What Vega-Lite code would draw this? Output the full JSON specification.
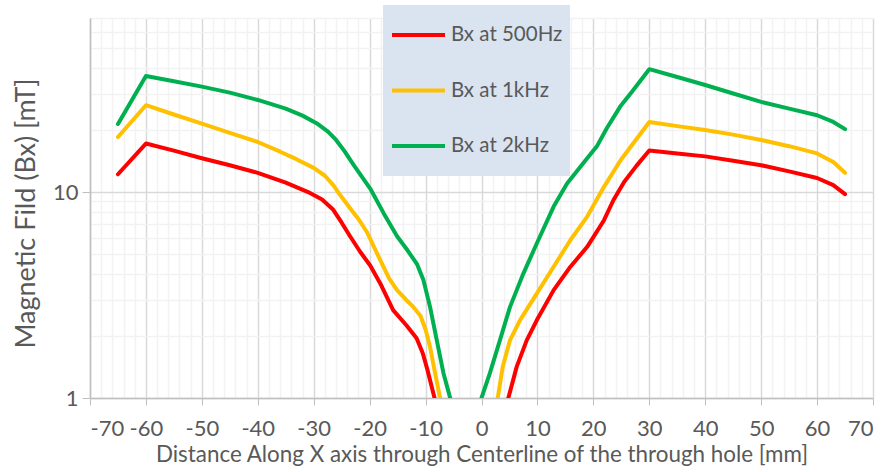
{
  "$schema": "https://vega.github.io/schema/vega-lite/v6.json",
  "width": 783,
  "height": 380,
  "autosize": {"type": "none"},
  "padding": {"left": 90, "top": 18, "right": 13, "bottom": 74},
  "background": "white",
  "config": {
    "view": {"stroke": null},
    "font": "Lato",
    "axis": {"labelColor": "#595959", "titleColor": "#595959", "titleFontWeight": "normal", "labelFont": "Lato", "titleFont": "Lato"}
  },
  "data": {
    "values": [
      {"x": -65, "series": "Bx at 500Hz", "branch": "left", "B": 12.2},
      {"x": -60, "series": "Bx at 500Hz", "branch": "left", "B": 17.2},
      {"x": -55, "series": "Bx at 500Hz", "branch": "left", "B": 15.9},
      {"x": -50, "series": "Bx at 500Hz", "branch": "left", "B": 14.6},
      {"x": -45, "series": "Bx at 500Hz", "branch": "left", "B": 13.5},
      {"x": -40, "series": "Bx at 500Hz", "branch": "left", "B": 12.4},
      {"x": -35, "series": "Bx at 500Hz", "branch": "left", "B": 11.1},
      {"x": -31, "series": "Bx at 500Hz", "branch": "left", "B": 10.0},
      {"x": -28.5, "series": "Bx at 500Hz", "branch": "left", "B": 9.2},
      {"x": -26.5, "series": "Bx at 500Hz", "branch": "left", "B": 8.2},
      {"x": -25, "series": "Bx at 500Hz", "branch": "left", "B": 7.1},
      {"x": -23.5, "series": "Bx at 500Hz", "branch": "left", "B": 6.1},
      {"x": -21.7, "series": "Bx at 500Hz", "branch": "left", "B": 5.13},
      {"x": -19.9, "series": "Bx at 500Hz", "branch": "left", "B": 4.4},
      {"x": -18.1, "series": "Bx at 500Hz", "branch": "left", "B": 3.6},
      {"x": -15.8, "series": "Bx at 500Hz", "branch": "left", "B": 2.67},
      {"x": -13.4, "series": "Bx at 500Hz", "branch": "left", "B": 2.25},
      {"x": -11.6, "series": "Bx at 500Hz", "branch": "left", "B": 1.95},
      {"x": -10.5, "series": "Bx at 500Hz", "branch": "left", "B": 1.65},
      {"x": -9.6, "series": "Bx at 500Hz", "branch": "left", "B": 1.35},
      {"x": -8.4, "series": "Bx at 500Hz", "branch": "left", "B": 1.0},
      {"x": 4.8, "series": "Bx at 500Hz", "branch": "right", "B": 1.0},
      {"x": 6.3, "series": "Bx at 500Hz", "branch": "right", "B": 1.42},
      {"x": 8.1, "series": "Bx at 500Hz", "branch": "right", "B": 1.91},
      {"x": 9.9, "series": "Bx at 500Hz", "branch": "right", "B": 2.39},
      {"x": 12.9, "series": "Bx at 500Hz", "branch": "right", "B": 3.34},
      {"x": 15.9, "series": "Bx at 500Hz", "branch": "right", "B": 4.34},
      {"x": 18.9, "series": "Bx at 500Hz", "branch": "right", "B": 5.42},
      {"x": 21.9, "series": "Bx at 500Hz", "branch": "right", "B": 7.3},
      {"x": 23.6, "series": "Bx at 500Hz", "branch": "right", "B": 9.15},
      {"x": 25.5, "series": "Bx at 500Hz", "branch": "right", "B": 11.2},
      {"x": 27.7, "series": "Bx at 500Hz", "branch": "right", "B": 13.4},
      {"x": 30, "series": "Bx at 500Hz", "branch": "right", "B": 15.9},
      {"x": 35, "series": "Bx at 500Hz", "branch": "right", "B": 15.4},
      {"x": 40, "series": "Bx at 500Hz", "branch": "right", "B": 14.9},
      {"x": 45, "series": "Bx at 500Hz", "branch": "right", "B": 14.2},
      {"x": 50, "series": "Bx at 500Hz", "branch": "right", "B": 13.5},
      {"x": 55, "series": "Bx at 500Hz", "branch": "right", "B": 12.6},
      {"x": 60, "series": "Bx at 500Hz", "branch": "right", "B": 11.7},
      {"x": 62.9, "series": "Bx at 500Hz", "branch": "right", "B": 10.8},
      {"x": 65, "series": "Bx at 500Hz", "branch": "right", "B": 9.78},

      {"x": -65, "series": "Bx at 1kHz", "branch": "left", "B": 18.5},
      {"x": -60, "series": "Bx at 1kHz", "branch": "left", "B": 26.4},
      {"x": -55, "series": "Bx at 1kHz", "branch": "left", "B": 23.8},
      {"x": -50, "series": "Bx at 1kHz", "branch": "left", "B": 21.5},
      {"x": -45, "series": "Bx at 1kHz", "branch": "left", "B": 19.4},
      {"x": -40, "series": "Bx at 1kHz", "branch": "left", "B": 17.5},
      {"x": -36, "series": "Bx at 1kHz", "branch": "left", "B": 15.7},
      {"x": -33, "series": "Bx at 1kHz", "branch": "left", "B": 14.4},
      {"x": -30, "series": "Bx at 1kHz", "branch": "left", "B": 13.1},
      {"x": -28, "series": "Bx at 1kHz", "branch": "left", "B": 12.0},
      {"x": -26.5, "series": "Bx at 1kHz", "branch": "left", "B": 10.8},
      {"x": -25.3, "series": "Bx at 1kHz", "branch": "left", "B": 9.7},
      {"x": -23.5, "series": "Bx at 1kHz", "branch": "left", "B": 8.35},
      {"x": -22, "series": "Bx at 1kHz", "branch": "left", "B": 7.4},
      {"x": -20.5, "series": "Bx at 1kHz", "branch": "left", "B": 6.4},
      {"x": -18.1, "series": "Bx at 1kHz", "branch": "left", "B": 4.67},
      {"x": -16.5, "series": "Bx at 1kHz", "branch": "left", "B": 3.8},
      {"x": -15.1, "series": "Bx at 1kHz", "branch": "left", "B": 3.34},
      {"x": -13.5, "series": "Bx at 1kHz", "branch": "left", "B": 3.0},
      {"x": -12.2, "series": "Bx at 1kHz", "branch": "left", "B": 2.77},
      {"x": -10.9, "series": "Bx at 1kHz", "branch": "left", "B": 2.5},
      {"x": -10.0, "series": "Bx at 1kHz", "branch": "left", "B": 2.15},
      {"x": -9.2, "series": "Bx at 1kHz", "branch": "left", "B": 1.77},
      {"x": -8.3, "series": "Bx at 1kHz", "branch": "left", "B": 1.32},
      {"x": -7.4, "series": "Bx at 1kHz", "branch": "left", "B": 1.0},
      {"x": 2.9, "series": "Bx at 1kHz", "branch": "right", "B": 1.0},
      {"x": 3.8, "series": "Bx at 1kHz", "branch": "right", "B": 1.42},
      {"x": 5.1, "series": "Bx at 1kHz", "branch": "right", "B": 1.91},
      {"x": 6.9, "series": "Bx at 1kHz", "branch": "right", "B": 2.39},
      {"x": 9.9, "series": "Bx at 1kHz", "branch": "right", "B": 3.22},
      {"x": 12.9, "series": "Bx at 1kHz", "branch": "right", "B": 4.34},
      {"x": 15.9, "series": "Bx at 1kHz", "branch": "right", "B": 5.85},
      {"x": 18.9, "series": "Bx at 1kHz", "branch": "right", "B": 7.6},
      {"x": 21.9, "series": "Bx at 1kHz", "branch": "right", "B": 10.6},
      {"x": 24.9, "series": "Bx at 1kHz", "branch": "right", "B": 14.3},
      {"x": 30, "series": "Bx at 1kHz", "branch": "right", "B": 21.9},
      {"x": 35, "series": "Bx at 1kHz", "branch": "right", "B": 20.9},
      {"x": 40, "series": "Bx at 1kHz", "branch": "right", "B": 20.0},
      {"x": 45, "series": "Bx at 1kHz", "branch": "right", "B": 19.0},
      {"x": 50, "series": "Bx at 1kHz", "branch": "right", "B": 17.9},
      {"x": 55, "series": "Bx at 1kHz", "branch": "right", "B": 16.7},
      {"x": 60, "series": "Bx at 1kHz", "branch": "right", "B": 15.4},
      {"x": 62.9, "series": "Bx at 1kHz", "branch": "right", "B": 14.0},
      {"x": 65, "series": "Bx at 1kHz", "branch": "right", "B": 12.4},

      {"x": -65, "series": "Bx at 2kHz", "branch": "left", "B": 21.4},
      {"x": -60, "series": "Bx at 2kHz", "branch": "left", "B": 36.6},
      {"x": -55, "series": "Bx at 2kHz", "branch": "left", "B": 34.5},
      {"x": -50, "series": "Bx at 2kHz", "branch": "left", "B": 32.5},
      {"x": -45, "series": "Bx at 2kHz", "branch": "left", "B": 30.4},
      {"x": -40, "series": "Bx at 2kHz", "branch": "left", "B": 28.0},
      {"x": -35, "series": "Bx at 2kHz", "branch": "left", "B": 25.4},
      {"x": -32, "series": "Bx at 2kHz", "branch": "left", "B": 23.5},
      {"x": -29.5, "series": "Bx at 2kHz", "branch": "left", "B": 21.6},
      {"x": -27.5, "series": "Bx at 2kHz", "branch": "left", "B": 19.7},
      {"x": -26, "series": "Bx at 2kHz", "branch": "left", "B": 17.9},
      {"x": -24.5, "series": "Bx at 2kHz", "branch": "left", "B": 15.8},
      {"x": -22.9, "series": "Bx at 2kHz", "branch": "left", "B": 13.6},
      {"x": -19.9, "series": "Bx at 2kHz", "branch": "left", "B": 10.4},
      {"x": -17.5, "series": "Bx at 2kHz", "branch": "left", "B": 7.9},
      {"x": -15.1, "series": "Bx at 2kHz", "branch": "left", "B": 6.1},
      {"x": -13.2, "series": "Bx at 2kHz", "branch": "left", "B": 5.2},
      {"x": -11.5, "series": "Bx at 2kHz", "branch": "left", "B": 4.45},
      {"x": -10.4, "series": "Bx at 2kHz", "branch": "left", "B": 3.75},
      {"x": -9.2, "series": "Bx at 2kHz", "branch": "left", "B": 2.77},
      {"x": -8.0, "series": "Bx at 2kHz", "branch": "left", "B": 1.91},
      {"x": -6.8, "series": "Bx at 2kHz", "branch": "left", "B": 1.32},
      {"x": -5.6, "series": "Bx at 2kHz", "branch": "left", "B": 1.0},
      {"x": 0, "series": "Bx at 2kHz", "branch": "right", "B": 1.0},
      {"x": 1.5, "series": "Bx at 2kHz", "branch": "right", "B": 1.32},
      {"x": 3.3, "series": "Bx at 2kHz", "branch": "right", "B": 1.91},
      {"x": 5.1, "series": "Bx at 2kHz", "branch": "right", "B": 2.77},
      {"x": 7.5, "series": "Bx at 2kHz", "branch": "right", "B": 4.03},
      {"x": 9.9, "series": "Bx at 2kHz", "branch": "right", "B": 5.64},
      {"x": 12.9, "series": "Bx at 2kHz", "branch": "right", "B": 8.5},
      {"x": 15.3, "series": "Bx at 2kHz", "branch": "right", "B": 11.0},
      {"x": 18.9, "series": "Bx at 2kHz", "branch": "right", "B": 14.6},
      {"x": 20.7, "series": "Bx at 2kHz", "branch": "right", "B": 16.8},
      {"x": 22.4, "series": "Bx at 2kHz", "branch": "right", "B": 20.4},
      {"x": 24.8, "series": "Bx at 2kHz", "branch": "right", "B": 26.0},
      {"x": 26.9, "series": "Bx at 2kHz", "branch": "right", "B": 30.7},
      {"x": 30, "series": "Bx at 2kHz", "branch": "right", "B": 39.5},
      {"x": 35, "series": "Bx at 2kHz", "branch": "right", "B": 36.2},
      {"x": 40, "series": "Bx at 2kHz", "branch": "right", "B": 33.1},
      {"x": 45, "series": "Bx at 2kHz", "branch": "right", "B": 30.1},
      {"x": 50, "series": "Bx at 2kHz", "branch": "right", "B": 27.4},
      {"x": 55, "series": "Bx at 2kHz", "branch": "right", "B": 25.4},
      {"x": 60, "series": "Bx at 2kHz", "branch": "right", "B": 23.6},
      {"x": 62.9, "series": "Bx at 2kHz", "branch": "right", "B": 21.9},
      {"x": 65, "series": "Bx at 2kHz", "branch": "right", "B": 20.2}
    ]
  },
  "mark": {"type": "line", "strokeWidth": 4, "clip": true, "strokeCap": "round", "strokeJoin": "round"},
  "encoding": {
    "x": {
      "field": "x", "type": "quantitative",
      "scale": {"domain": [-70, 70], "nice": false, "zero": false},
      "axis": {
        "values": [-70,-68,-66,-64,-62,-60,-58,-56,-54,-52,-50,-48,-46,-44,-42,-40,-38,-36,-34,-32,-30,-28,-26,-24,-22,-20,-18,-16,-14,-12,-10,-8,-6,-4,-2,0,2,4,6,8,10,12,14,16,18,20,22,24,26,28,30,32,34,36,38,40,42,44,46,48,50,52,54,56,58,60,62,64,66,68,70],
        "labelExpr": "datum.value % 10 == 0 ? '' + datum.value : ''",
        "labelOverlap": false,
        "labelFontSize": 22,
        "labelPadding": 13,
        "tickSize": 7,
        "tickColor": {"condition": {"test": "datum.value % 10 == 0", "value": "#bfbfbf"}, "value": "rgba(0,0,0,0)"},
        "gridColor": {"condition": {"test": "datum.value % 10 == 0", "value": "#d9d9d9"}, "value": "#f2f2f2"},
        "gridWidth": 1.5,
        "domainColor": "#bfbfbf",
        "domainWidth": 1.5,
        "title": "Distance Along X axis through Centerline of the through hole [mm]",
        "titleFontSize": 22.4,
        "titlePadding": 4
      }
    },
    "y": {
      "field": "B", "type": "quantitative",
      "scale": {"type": "log", "domain": [1, 70], "nice": false},
      "axis": {
        "values": [1,2,3,4,5,6,7,8,9,10,20,30,40,50,60,70],
        "labelExpr": "datum.value == 1 || datum.value == 10 ? '' + datum.value : ''",
        "labelOverlap": false,
        "labelFontSize": 22,
        "labelPadding": 4,
        "tickSize": 8,
        "tickColor": {"condition": {"test": "datum.value == 1 || datum.value == 10", "value": "#bfbfbf"}, "value": "rgba(0,0,0,0)"},
        "gridColor": {"condition": {"test": "datum.value == 1 || datum.value == 10", "value": "#d9d9d9"}, "value": "#f2f2f2"},
        "gridWidth": 1.5,
        "domainColor": "#bfbfbf",
        "domainWidth": 1.5,
        "title": "Magnetic Fild (Bx) [mT]",
        "titleFontSize": 27,
        "titlePadding": 12,
        "titleY": 195
      }
    },
    "detail": {"field": "branch", "type": "nominal"},
    "color": {
      "field": "series", "type": "nominal",
      "scale": {"domain": ["Bx at 500Hz", "Bx at 1kHz", "Bx at 2kHz"], "range": ["#ff0000", "#ffc000", "#00b050"]},
      "legend": {
        "orient": "none",
        "legendX": 293,
        "legendY": -13,
        "title": null,
        "fillColor": "#dae3f0",
        "padding": 7,
        "clipHeight": 46,
        "symbolType": "stroke",
        "symbolSize": 2809,
        "symbolStrokeWidth": 4,
        "labelFontSize": 20.5,
        "labelColor": "#595959",
        "labelFont": "Lato",
        "labelOffset": 4,
        "rowPadding": 9.5,
        "labelLimit": 300
      }
    }
  }
}
